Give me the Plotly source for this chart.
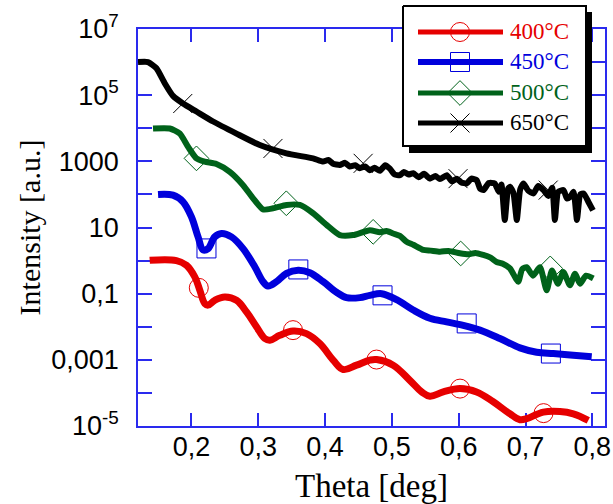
import plotly.graph_objects as go

# ---------------- data ----------------
theta_400 = [0.1375, 0.1775, 0.1925, 0.205, 0.2124, 0.220, 0.2249, 0.2349, 0.2499, 0.2674,
             0.2824, 0.2973, 0.3098, 0.3173, 0.3322, 0.3522, 0.3722, 0.3922, 0.4121, 0.4271,
             0.4471, 0.4670, 0.4771, 0.5019, 0.5269, 0.5445, 0.5569, 0.5768, 0.6018, 0.6268,
             0.6517, 0.6767, 0.6917, 0.7017, 0.7266, 0.7516, 0.7715, 0.7940]
int_400 = [1.02, 1.0, 0.72, 0.32, 0.13, 0.050, 0.045, 0.063, 0.079, 0.063,
           0.028, 0.010, 0.0044, 0.0039, 0.0055, 0.0074, 0.0062, 0.0031, 0.00098, 0.00051,
           0.00069, 0.00098, 0.00102, 0.00069, 0.00024, 0.000107, 0.000079, 0.000107, 0.000135, 0.000107,
           0.000054, 0.0000234, 0.0000155, 0.0000166, 0.0000263, 0.0000275, 0.0000234, 0.0000148]

theta_450 = [0.150, 0.1724, 0.1874, 0.200, 0.2099, 0.2174, 0.2249, 0.2349, 0.2449, 0.2599,
             0.2773, 0.2948, 0.3072, 0.3147, 0.3273, 0.3423, 0.3597, 0.3772, 0.3971, 0.4172,
             0.4321, 0.4521, 0.4670, 0.4846, 0.5070, 0.5319, 0.5569, 0.5819, 0.6068, 0.6318,
             0.6617, 0.6917, 0.7167, 0.7416, 0.7715, 0.7991]
int_450 = [100, 95, 60, 21, 5.2, 2.1, 2.3, 5.2, 6.6, 5.2,
           2.3, 0.65, 0.23, 0.17, 0.23, 0.41, 0.51, 0.43, 0.23, 0.11,
           0.076, 0.076, 0.089, 0.10, 0.066, 0.032, 0.018, 0.014, 0.011, 0.0079,
           0.0044, 0.0023, 0.0017, 0.00155, 0.00138, 0.00123]

theta_500 = [0.1425, 0.1675, 0.1825, 0.1949, 0.2075, 0.2199, 0.2374, 0.2574, 0.2773, 0.2923,
             0.3072, 0.3222, 0.3423, 0.3622, 0.3821, 0.4022, 0.4221, 0.4420, 0.4670, 0.4820,
             0.4920, 0.5019, 0.5120, 0.5220, 0.5320, 0.5469, 0.5580, 0.5719, 0.5850, 0.6018,
             0.6150, 0.6250, 0.6367, 0.6470, 0.6568, 0.6660, 0.6767, 0.6891, 0.6950, 0.7017,
             0.7112, 0.7216, 0.7317, 0.7396, 0.7486, 0.7565, 0.7666, 0.7741, 0.7816, 0.7906,
             0.8015]
int_500 = [9800, 9800, 6900, 2750, 1230, 980, 830, 480, 190, 76,
           35, 38, 48, 48, 27, 12, 5.9, 5.9, 8.3, 7.2,
           7.8, 6.6, 5.6, 3.7, 3.0, 2.1, 2.0, 1.86, 1.95, 1.66,
           1.55, 1.70, 1.48, 1.25, 0.91, 0.80, 0.58, 0.23, 0.55, 0.63,
           0.35, 0.63, 0.126, 0.50, 0.20, 0.45, 0.18, 0.40, 0.20, 0.35,
           0.29]

theta_650 = [0.120, 0.135, 0.1476, 0.160, 0.1724, 0.1874, 0.2075, 0.2324, 0.2674, 0.3023,
             0.3423, 0.382, 0.397, 0.405, 0.412, 0.422, 0.430, 0.437, 0.445, 0.452,
             0.460, 0.467, 0.474, 0.482, 0.490, 0.497, 0.504, 0.512, 0.518, 0.525,
             0.532, 0.540, 0.548, 0.557, 0.565, 0.572, 0.582, 0.590, 0.597, 0.604,
             0.612, 0.619, 0.627, 0.632, 0.637, 0.645, 0.654, 0.660, 0.664, 0.669,
             0.674, 0.677, 0.682, 0.687, 0.692, 0.697, 0.704, 0.712, 0.719, 0.727,
             0.734, 0.740, 0.744, 0.749, 0.757, 0.762, 0.767, 0.772, 0.777, 0.782,
             0.787, 0.794, 0.801]
int_650 = [1.0e6, 1.0e6, 6.5e5, 2.3e5, 9.5e4, 5.6e4, 3.2e4, 1.6e4, 6900, 3100,
           1740, 1230, 980, 1100, 850, 780, 900, 700, 760, 620,
           700, 540, 640, 520, 760, 600, 400, 380, 480, 400,
           440, 330, 420, 300, 360, 290, 380, 250, 300, 230,
           215, 300, 270, 150, 135, 220, 215, 120, 200, 17,
           150, 170, 110, 17, 140, 215, 130, 107, 180, 135,
           90, 160, 17, 120, 135, 75, 85, 120, 17, 100,
           107, 60, 33]

# marker positions
mk_theta_400 = [0.211, 0.352, 0.477, 0.602, 0.727]
mk_int_400 = [0.15, 0.0079, 0.00102, 0.000135, 0.0000245]
mk_theta_450 = [0.2225, 0.360, 0.486, 0.612, 0.738]
mk_int_450 = [2.33, 0.54, 0.089, 0.0126, 0.00155]
mk_theta_500 = [0.2075, 0.342, 0.472, 0.603, 0.737]
mk_int_500 = [1230, 54, 7.4, 1.64, 0.58]
mk_theta_650 = [0.187, 0.322, 0.457, 0.599, 0.734]
mk_int_650 = [56000, 2450, 870, 300, 135]

labels = ["400°C", "450°C", "500°C", "650°C"]
colors = ["#e60000", "#0000dc", "#00621a", "#000000"]
symbols = ["circle-open", "square-open", "diamond-open", "x-thin-open"]

x_tickvals = [0.2, 0.3, 0.4, 0.5, 0.6, 0.7, 0.8]
x_ticktext = ["0,2", "0,3", "0,4", "0,5", "0,6", "0,7", "0,8"]
y_tickvals = [1e-5, 1e-4, 1e-3, 1e-2, 1e-1, 1, 10, 100, 1000, 1e4, 1e5, 1e6, 1e7]
y_ticktext = ["10<sup>-5</sup>", " ", "0,001", " ", "0,1", " ", "10", " ", "1000", " ",
              "10<sup>5</sup>", " ", "10<sup>7</sup>"]

series = [
    (theta_400, int_400, mk_theta_400, mk_int_400, 7, 1.1),
    (theta_450, int_450, mk_theta_450, mk_int_450, 7, 1.0),
    (theta_500, int_500, mk_theta_500, mk_int_500, 6, 0.6),
    (theta_650, int_650, mk_theta_650, mk_int_650, 6, 0.5),
]

fig = go.Figure()
for (tx, iy, mx, my, lw, sm), lab, col, sym in zip(series, labels, colors, symbols):
    fig.add_trace(go.Scatter(x=tx, y=iy, mode="lines", name=lab,
                             line=dict(color=col, width=lw, shape="spline", smoothing=sm),
                             showlegend=False, xaxis="x", yaxis="y"))
    fig.add_trace(go.Scatter(x=mx, y=my, mode="markers", name=lab,
                             marker=dict(symbol=sym, size=19, color=col,
                                         line=dict(width=1, color=col)),
                             showlegend=False, xaxis="x", yaxis="y"))

# ---------------- hand-made legend (own subplot, pixel-like units) ----------------
leg_row_y = [27, 57, 88, 118]
leg_line_x = [16, 101]
leg_marker_x = 58
leg_text_x = 106
leg_line_w = [5, 6, 5, 5]

fig.add_trace(go.Scatter(x=[7, 190, 190, 7, 7], y=[7, 7, 148, 148, 7], mode="lines",
                         fill="toself", fillcolor="black", line=dict(color="black", width=0),
                         showlegend=False, hoverinfo="skip", xaxis="x2", yaxis="y2"))
fig.add_trace(go.Scatter(x=[1, 184, 184, 1, 1], y=[1, 1, 141, 141, 1], mode="lines",
                         fill="toself", fillcolor="white", line=dict(color="black", width=2),
                         showlegend=False, hoverinfo="skip", xaxis="x2", yaxis="y2"))
for ry, lab, col, sym, w in zip(leg_row_y, labels, colors, symbols, leg_line_w):
    fig.add_trace(go.Scatter(x=leg_line_x, y=[ry, ry], mode="lines",
                             line=dict(color=col, width=w), showlegend=False,
                             hoverinfo="skip", xaxis="x2", yaxis="y2"))
    fig.add_trace(go.Scatter(x=[leg_marker_x], y=[ry], mode="markers",
                             marker=dict(symbol=sym, size=19, color=col,
                                         line=dict(width=1, color=col)),
                             showlegend=False, hoverinfo="skip", xaxis="x2", yaxis="y2"))
    fig.add_annotation(x=leg_text_x, y=ry, xref="x2", yref="y2", text=lab,
                       showarrow=False, xanchor="left", yanchor="middle",
                       font=dict(family="Liberation Serif", size=23, color=col))

axis_blue = "#2a2aee"
common = dict(showgrid=False, zeroline=False, showline=True, linecolor=axis_blue,
              linewidth=1.5, mirror="allticks", ticks="inside", tickcolor=axis_blue,
              tickwidth=1.5, layer="below traces",
              tickfont=dict(family="Liberation Sans", size=27, color="black"))

fig.update_layout(
    width=613, height=504,
    margin=dict(l=138, r=8, t=0, b=78, autoexpand=False),
    paper_bgcolor="white", plot_bgcolor="white",
    showlegend=False,
    xaxis=dict(range=[0.12, 0.819], domain=[0, 1], tickmode="array",
               tickvals=x_tickvals, ticktext=x_ticktext, ticklen=13,
               ticklabelstandoff=-4,
               title=dict(text="Theta [deg]", standoff=13,
                          font=dict(family="Liberation Serif", size=33, color="black")),
               **common),
    yaxis=dict(type="log", range=[-5, 7], domain=[0, 397 / 426], tickmode="array",
               tickvals=y_tickvals, ticktext=y_ticktext, ticklen=14,
               ticklabelstandoff=12,
               title=dict(text="Intensity [a.u.]", standoff=2,
                          font=dict(family="Liberation Serif", size=30, color="black")),
               **common),
    xaxis2=dict(domain=[264 / 467, 454 / 467], range=[0, 190], visible=False,
                anchor="y2", fixedrange=True),
    yaxis2=dict(domain=[273 / 426, 421 / 426], range=[148, 0], visible=False,
                anchor="x2", fixedrange=True),
)

fig.write_html("out.html", config={"displayModeBar": False},
               post_script="document.body.style.margin='0';document.body.style.overflow='hidden';")
